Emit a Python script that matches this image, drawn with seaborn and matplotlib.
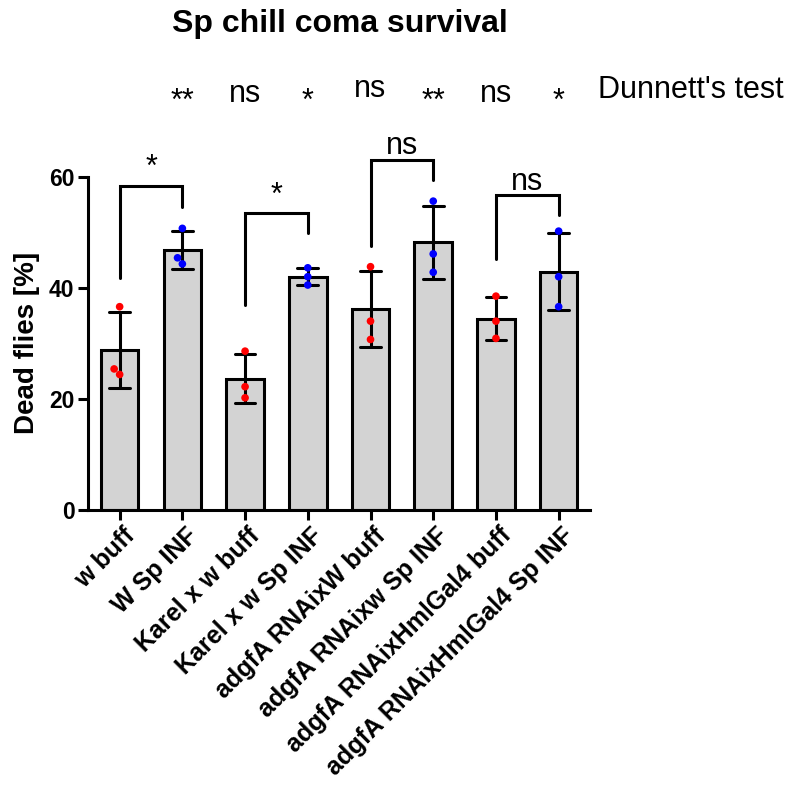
import matplotlib
matplotlib.use("Agg")
import matplotlib.pyplot as plt
import matplotlib.transforms as mtransforms
import seaborn as sns
import numpy as np
import pandas as pd

# ---------------- data ----------------
categories = ["w buff", "W Sp INF", "Karel x w buff", "Karel x w Sp INF",
              "adgfA RNAixW buff", "adgfA RNAixw Sp INF",
              "adgfA RNAixHmlGal4 buff", "adgfA RNAixHmlGal4 Sp INF"]
treatment = ["buff", "INF", "buff", "INF", "buff", "INF", "buff", "INF"]
replicates = [
    [36.6, 25.4, 24.4],
    [50.7, 45.4, 44.3],
    [28.6, 22.2, 20.2],
    [43.6, 42.0, 40.5],
    [43.8, 34.0, 30.7],
    [55.6, 46.1, 42.8],
    [38.5, 34.0, 30.9],
    [50.2, 42.0, 36.6],
]
# pairwise comparison brackets: (left bar, right bar, top, left leg end, right leg end, label, label baseline)
brackets = [
    (0, 1, 58.3, 41.8, 54.6, "*", 60.2),
    (2, 3, 53.4, 36.9, 49.8, "*", 55.1),
    (4, 5, 63.0, 47.5, 59.4, "ns", 64.1),
    (6, 7, 56.7, 45.1, 53.1, "ns", 57.6),
]
# Dunnett's test row (above bars 2..8)
dunnett_labels = ["**", "ns", "*", "ns", "**", "ns", "*"]
dunnett_baseline = [72.0, 73.4, 72.0, 74.3, 72.0, 73.4, 72.0]
yticks = [0, 20, 40, 60]

rows = []
for cat, tr, vals in zip(categories, treatment, replicates):
    for v in vals:
        rows.append({"group": cat, "treatment": tr, "value": v})
df = pd.DataFrame(rows)

# ---------------- style ----------------
sns.set_style("ticks")
plt.rcParams["font.family"] = ["Liberation Sans", "DejaVu Sans"]
plt.rcParams.update({
    "axes.linewidth": 2.2,
    "text.color": "black",
    "axes.labelcolor": "black",
    "axes.edgecolor": "black",
    "xtick.color": "black",
    "ytick.color": "black",
})

fig = plt.figure(figsize=(7.89, 7.86), dpi=100)
ax = fig.add_axes([0.1119, 0.3511, 0.6359, 0.4241])

sns.barplot(data=df, x="group", y="value", order=categories, ax=ax,
            color="#D3D3D3", saturation=1, width=0.6,
            edgecolor="black", linewidth=2.2,
            errorbar="sd", capsize=0.33,
            err_kws={"color": "black", "linewidth": 2.2})
sns.swarmplot(data=df, x="group", y="value", order=categories, ax=ax,
              hue="treatment", palette={"buff": "#FF0000", "INF": "#0000FF"},
              size=5.5, linewidth=0, legend=False, zorder=4)

ax.set_ylim(0, 60)
ax.set_xlim(-0.5, 7.5)
ax.set_yticks(yticks)
sns.despine(ax=ax)
ax.spines["left"].set_linewidth(2.2)
ax.spines["bottom"].set_linewidth(2.2)
ax.tick_params(axis="both", width=2.2, length=7, color="black")
ax.tick_params(axis="y", pad=3)
for lab in ax.get_yticklabels():
    lab.set_fontsize(16.5)
    lab.set_fontweight("bold")
ax.set_xticks(range(len(categories)))
ax.set_xticklabels(categories, rotation=45, ha="right", va="top",
                   rotation_mode="anchor", fontsize=18, fontweight="bold")
ax.tick_params(axis="x", pad=2.5)
shift = mtransforms.ScaledTranslation(3 / 100, 0, fig.dpi_scale_trans)
for lab in ax.get_xticklabels():
    lab.set_transform(lab.get_transform() + shift)

ax.set_xlabel("")
ax.set_ylabel("Dead flies [%]", fontsize=20, fontweight="bold")
ax.yaxis.set_label_coords(-0.096, 0.5)

# brackets
for x1, x2, top, yl, yr, lab, yb in brackets:
    ax.plot([x1, x1, x2, x2], [yl, top, top, yr], color="black", lw=2.2,
            clip_on=False, solid_joinstyle="miter", zorder=5)
    ax.text((x1 + x2) / 2, yb, lab, ha="center", va="baseline",
            fontsize=22, clip_on=False)

# Dunnett's row
for i, (lab, yb) in enumerate(zip(dunnett_labels, dunnett_baseline)):
    ax.text(i + 1, yb, lab, ha="center", va="baseline", fontsize=22,
            clip_on=False)
ax.text(7.62, 74.1, "Dunnett's test", ha="left", va="baseline", fontsize=22,
        clip_on=False)

fig.text(340 / 789, 1 - 32 / 786, "Sp chill coma survival", ha="center",
         va="baseline", fontsize=23, fontweight="bold")

fig.savefig("out.png", dpi=100)
